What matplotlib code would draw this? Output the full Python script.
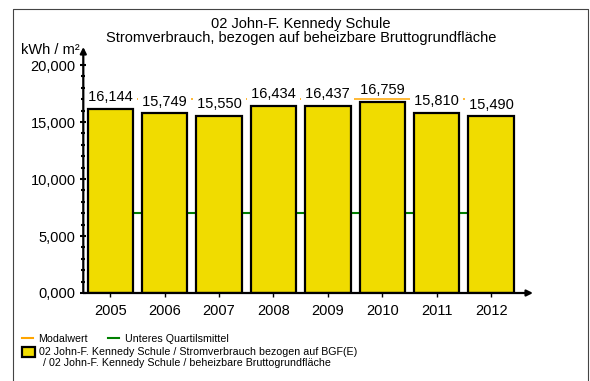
import matplotlib
matplotlib.use("Agg")
import matplotlib.pyplot as plt
from matplotlib.patches import Rectangle
from matplotlib.lines import Line2D

years = ["2005", "2006", "2007", "2008", "2009", "2010", "2011", "2012"]
values = [16144, 15749, 15550, 16434, 16437, 16759, 15810, 15490]
modalwert = 17050
unteres_quartilsmittel = 7000
yticks = [0, 5000, 10000, 15000, 20000]
ytick_labels = ["0,000", "5,000", "10,000", "15,000", "20,000"]

plt.rcParams['font.family'] = ['Liberation Sans', 'DejaVu Sans']

W, H = 590, 381
fig = plt.figure(figsize=(W / 100, H / 100), dpi=100)
fig.patch.set_facecolor('white')

def fx(px):
    return px / W

def fy(py):
    return 1 - py / H

ax = fig.add_axes([fx(83.3), fy(293), fx(533) - fx(83.3), fy(47) - fy(293)])
ax.set_xlim(-0.496, 7.77)
ax.set_ylim(0, 21580)
for s in ax.spines.values():
    s.set_visible(False)

x = list(range(len(years)))
ax.hlines(modalwert, 0, len(years) - 1, color='#FFA500', lw=1.1, zorder=1)
ax.hlines(unteres_quartilsmittel, 0, len(years) - 1, color='#008000', lw=1.5, zorder=1)
ax.bar(x, values, width=0.833, color='#F0DC00', edgecolor='black', linewidth=1.6, zorder=2)

for xi, v in zip(x, values):
    ax.annotate(f" {v:,} ", (xi, v), xytext=(0, 7.5), textcoords='offset pixels',
                ha='center', va='baseline', fontsize=10.5, zorder=4,
                bbox=dict(boxstyle='square,pad=0', fc='white', ec='none'))

# axes arrows
ax.annotate('', xy=(0, 1), xytext=(0, 0), xycoords='axes fraction',
            arrowprops=dict(arrowstyle='-|>', lw=1.6, color='black',
                            mutation_scale=9, shrinkA=0, shrinkB=0), zorder=5)
ax.annotate('', xy=(1, 0), xytext=(0, 0), xycoords='axes fraction',
            arrowprops=dict(arrowstyle='-|>', lw=1.6, color='black',
                            mutation_scale=9, shrinkA=0, shrinkB=0), zorder=5)

ax.set_yticks(yticks)
ax.set_yticklabels(ytick_labels, fontsize=10.5)
ax.set_yticks(range(0, 21000, 1000), minor=True)
ax.tick_params(axis='y', which='major', direction='inout', length=5, width=1.5, pad=3)
ax.tick_params(axis='y', which='minor', direction='inout', length=3, width=1.5)
ax.set_xticks(x)
ax.set_xticklabels(years, fontsize=10.5)
ax.tick_params(axis='x', which='major', direction='out', length=3, width=1, pad=5)

fig.text(fx(80), fy(50), "kWh / m²", ha='right', va='center', fontsize=10.5)
fig.text(fx(301), fy(24), "02 John-F. Kennedy Schule", ha='center', va='center', fontsize=10.5)
fig.text(fx(301), fy(38), "Stromverbrauch, bezogen auf beheizbare Bruttogrundfläche",
         ha='center', va='center', fontsize=10.5)

# frame
fig.add_artist(Line2D([fx(13), fx(13), fx(587.5), fx(587.5)],
                      [fy(383), fy(9), fy(9), fy(383)], color='#444444', lw=0.8))

# legend
fs = 7.7
fig.add_artist(Line2D([fx(22), fx(33)], [fy(337.5), fy(337.5)], color='#FFA500', lw=1.5))
fig.text(fx(38), fy(338.5), "Modalwert", ha='left', va='center', fontsize=fs)
fig.add_artist(Line2D([fx(108), fx(119)], [fy(337.5), fy(337.5)], color='#008000', lw=1.5))
fig.text(fx(125), fy(338.5), "Unteres Quartilsmittel", ha='left', va='center', fontsize=fs)
fig.add_artist(Rectangle((fx(22), fy(357)), fx(35) - fx(22), fy(347) - fy(357),
                         transform=fig.transFigure, fc='#F0DC00', ec='black', lw=1.6))
fig.text(fx(39), fy(352), "02 John-F. Kennedy Schule / Stromverbrauch bezogen auf BGF(E)",
         ha='left', va='center', fontsize=fs)
fig.text(fx(43), fy(362.5), "/ 02 John-F. Kennedy Schule / beheizbare Bruttogrundfläche",
         ha='left', va='center', fontsize=fs)

fig.savefig("out.png", dpi=100)
